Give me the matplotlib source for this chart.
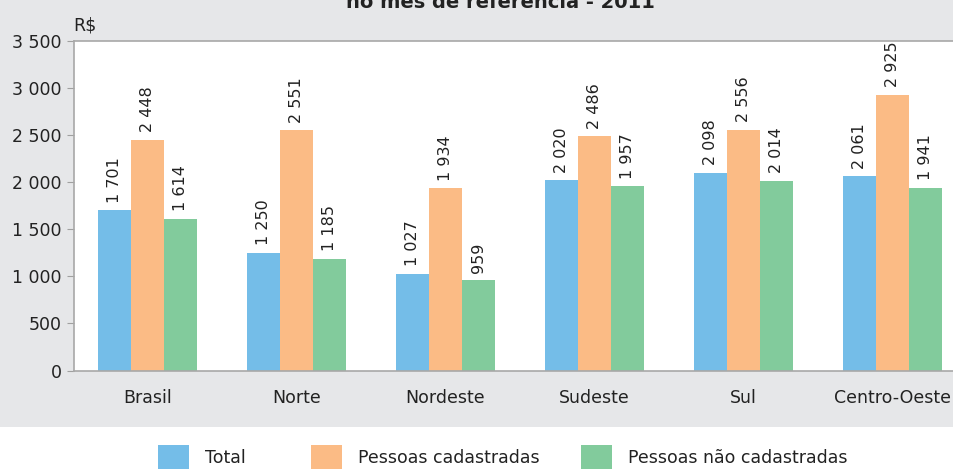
import numpy as np
import matplotlib
matplotlib.use("Agg")
import matplotlib.pyplot as plt
from matplotlib.patches import Rectangle
from matplotlib.ticker import FuncFormatter

plt.rcParams['font.family'] = ['DejaVu Sans']

regioes = ["Brasil", "Norte", "Nordeste", "Sudeste", "Sul", "Centro-Oeste"]
total = [1701, 1250, 1027, 2020, 2098, 2061]
cadastradas = [2448, 2551, 1934, 2486, 2556, 2925]
nao_cadastradas = [1614, 1185, 959, 1957, 2014, 1941]
series_nomes = ["Total", "Pessoas cadastradas", "Pessoas não cadastradas"]
cores = ["#74bde8", "#fbbb85", "#82cb9c"]

W, H = 954, 469
fig = plt.figure(figsize=(W / 100, H / 100), dpi=100)
fig.patch.set_facecolor("white")

# fundo cinza da area do grafico
fig.patches.append(Rectangle((0, 1 - 427 / H), 1, 427 / H, transform=fig.transFigure,
                             facecolor="#e6e7e9", edgecolor="none", zorder=-10))

ax = fig.add_axes([74 / W, 1 - 370.5 / H, 1 - 74 / W, (370.5 - 41) / H])
ax.set_facecolor("white")

x = np.arange(len(regioes))
largura = 0.2215
for i, (vals, cor) in enumerate(zip([total, cadastradas, nao_cadastradas], cores)):
    pos = x + (i - 1) * largura
    barras = ax.bar(pos, vals, width=largura, color=cor, zorder=2)
    for b, v in zip(barras, vals):
        rot = f"{v:,}".replace(",", " ")
        ax.annotate(rot, (b.get_x() + b.get_width() / 2, v), xytext=(0, 5.5),
                    textcoords="offset points", rotation=90, ha="center", va="bottom",
                    fontsize=11.5, color="#222222")

ax.set_xlim(-0.493, 5.413)
ax.set_ylim(0, 3500)
ax.set_yticks(np.arange(0, 3501, 500))
ax.yaxis.set_major_formatter(FuncFormatter(lambda v, p: f"{int(v):,}".replace(",", " ")))
ax.set_xticks(x)
ax.set_xticklabels(regioes)
ax.tick_params(axis="y", length=5, color="#a0a0a0", labelsize=12.5, pad=4, labelcolor="#222222")
ax.tick_params(axis="x", length=0, labelsize=12.5, pad=13, labelcolor="#222222")
for s in ["left", "top", "bottom"]:
    ax.spines[s].set_color("#a8a8a8")
    ax.spines[s].set_linewidth(1.2)
ax.spines["right"].set_visible(False)

fig.text(73 / W, 1 - 30 / H, "R$", fontsize=12.5, color="#222222", va="baseline")
# titulo cortado no topo, como na imagem original
fig.text(500 / W, 1 - 8 / H, "no mês de referência - 2011", fontsize=14, fontweight="bold",
         ha="center", va="baseline", color="#222222")

# legenda
leg_x = [158, 311, 581]
for lx, cor, nome in zip(leg_x, cores, series_nomes):
    fig.patches.append(Rectangle((lx / W, 1 - 476 / H), 31 / W, 31 / H,
                                 transform=fig.transFigure, facecolor=cor, edgecolor="none"))
    fig.text((lx + 47) / W, 1 - 463 / H, nome, fontsize=12.5, color="#222222", va="baseline")

fig.savefig("out.png", dpi=100)
